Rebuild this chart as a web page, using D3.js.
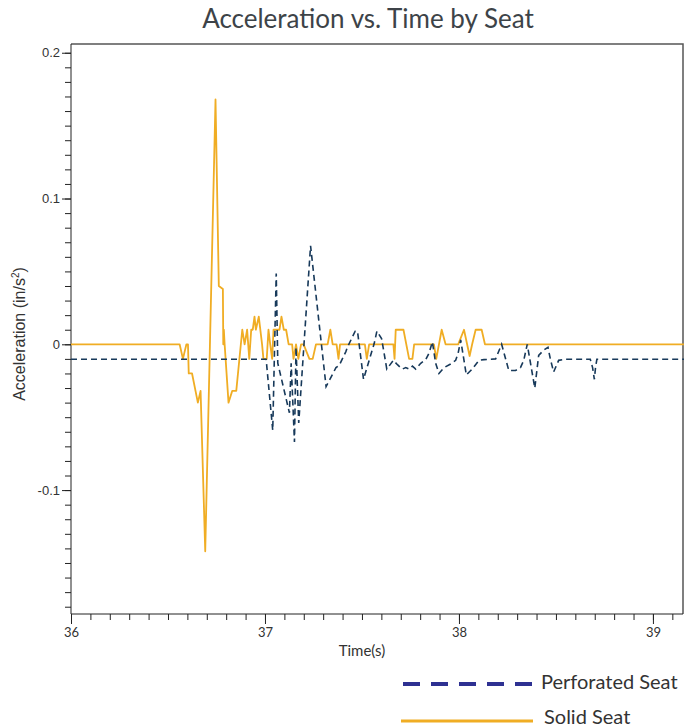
<!DOCTYPE html>
<html>
<head>
<meta charset="utf-8">
<script src="https://cdn.jsdelivr.net/npm/d3@7"></script>
<style>
  body { margin: 0; background: #fff; }
</style>
</head>
<body>
<div id="chart"></div>
<script>
// Solid seat readings (time in s, acceleration in in/s^2)
const solidTime = [
  36.0, 36.56, 36.577, 36.595, 36.603, 36.607, 36.624, 36.654, 36.668, 36.692,
  36.745, 36.762, 36.783, 36.785, 36.788, 36.792, 36.812, 36.831, 36.852, 36.883,
  36.895, 36.908, 36.919, 36.929, 36.937, 36.946, 36.953, 36.968, 36.985, 36.992,
  37.009, 37.018, 37.027, 37.037, 37.044, 37.075, 37.085, 37.097, 37.109, 37.122,
  37.14, 37.147, 37.16, 37.172, 37.186, 37.199, 37.229, 37.246, 37.263, 37.323,
  37.337, 37.349, 37.369, 37.379, 37.387, 37.515, 37.525, 37.537, 37.662, 37.668,
  37.674, 37.714, 37.743, 37.76, 37.769, 37.871, 37.883, 37.911, 37.931, 37.996,
  38.026, 38.055, 38.068, 38.086, 38.117, 38.134, 39.16
];
const solidAccel = [
  0, 0, -0.01, 0, 0, -0.02, -0.02, -0.04, -0.032, -0.142,
  0.168, 0.04, 0.038, 0, 0.01, 0, -0.04, -0.032, -0.032, 0.01,
  0, 0.01, -0.01, 0.01, 0.01, 0.019, 0.01, 0.019, 0, -0.01,
  -0.01, 0.01, 0, -0.01, 0.01, 0.01, 0.019, 0.01, 0.01, 0,
  0, -0.01, 0, -0.01, 0, 0, -0.01, -0.01, 0, 0,
  0.01, 0, 0, -0.01, 0, 0, -0.01, 0, 0, -0.01,
  0.01, 0.01, -0.01, -0.01, 0, 0, -0.01, 0.01, 0, 0,
  0.01, -0.008, 0, 0.01, 0.01, 0, 0
];

// Perforated seat readings
const perfTime = [
  36.0, 37.006, 37.04, 37.058, 37.066, 37.126, 37.135, 37.152, 37.16, 37.174,
  37.235, 37.315, 37.366, 37.383, 37.417, 37.425, 37.465, 37.477, 37.508, 37.537,
  37.563, 37.577, 37.601, 37.614, 37.628, 37.662, 37.683, 37.708, 37.726, 37.743,
  37.76, 37.777, 37.803, 37.829, 37.846, 37.863, 37.88, 37.897, 37.923, 37.957,
  37.983, 37.996, 38.009, 38.038, 38.068, 38.103, 38.129, 38.189, 38.22, 38.257,
  38.292, 38.317, 38.334, 38.352, 38.391, 38.411, 38.437, 38.459, 38.471, 38.488,
  38.514, 38.549, 38.677, 38.689, 38.698, 38.704, 38.711, 39.16
];
const perfAccel = [
  -0.0103, -0.0103, -0.059, 0.0486, -0.013, -0.047, -0.013, -0.067, -0.002, -0.054,
  0.0676, -0.029, -0.016, -0.0144, -0.005, -0.002, 0.009, 0.009, -0.024, -0.011,
  0.0005, 0.009, 0.004, -0.006, -0.017, -0.011, -0.014, -0.017, -0.016, -0.017,
  -0.015, -0.017, -0.013, -0.0105, -0.006, 0.0016, -0.013, -0.02, -0.016, -0.0135,
  -0.011, -0.006, 0.003, -0.021, -0.017, -0.011, -0.0105, -0.01, 0, -0.018,
  -0.018, -0.016, -0.011, 0, -0.03, -0.0076, -0.004, -0.002, -0.01, -0.019,
  -0.011, -0.0103, -0.0103, -0.016, -0.024, -0.016, -0.0103, -0.0103
];

const xTicks = [36, 37, 38, 39];
const yTicks = [-0.1, 0, 0.1, 0.2];
const yTickLabels = ["-0.1", "0", "0.1", "0.2"];
const seriesNames = ["Perforated Seat", "Solid Seat"];

const width = 691;
const height = 728;
const margin = { top: 44, right: 8, bottom: 114, left: 71 };
const innerWidth = width - margin.left - margin.right;
const innerHeight = height - margin.top - margin.bottom;

const solidColor = "#f0ad24";
const perfColor = "#17395a";
const perfLegendColor = "#2e3192";

const svg = d3
  .select("#chart")
  .append("svg")
  .attr("width", width)
  .attr("height", height);

/*
 * ========================================================================
 *  Scales
 * ========================================================================
 */
const xScale = d3
  .scaleLinear()
  .domain([36, 39.155])
  .range([margin.left, margin.left + innerWidth]);
const yScale = d3
  .scaleLinear()
  .domain([-0.185, 0.206])
  .range([margin.top + innerHeight, margin.top]);

/*
 * ========================================================================
 *  Frame + axes
 * ========================================================================
 */
// top / right border
svg
  .append("path")
  .attr(
    "d",
    `M${margin.left},${margin.top}H${margin.left + innerWidth}V${margin.top + innerHeight}`
  )
  .attr("fill", "none")
  .attr("stroke", "#555")
  .attr("stroke-width", 1.5);

// minor ticks (no labels)
const yMinor = d3.range(-18, 21).map((d) => d / 100);
const yMinorG = svg
  .append("g")
  .attr("transform", `translate(${margin.left},0)`)
  .call(d3.axisLeft(yScale).tickValues(yMinor).tickSize(6).tickFormat(""));
yMinorG.select(".domain").remove();
yMinorG.selectAll("text").remove();
yMinorG.selectAll("line").attr("stroke", "#222");

const yAxis = svg
  .append("g")
  .attr("transform", `translate(${margin.left},0)`)
  .call(
    d3
      .axisLeft(yScale)
      .tickValues(yTicks)
      .tickSize(9)
      .tickPadding(2)
      .tickFormat((d, i) => yTickLabels[i])
  );
yAxis.select(".domain").attr("d", `M0,${margin.top}V${margin.top + innerHeight}`).attr("stroke", "#222");
yAxis.selectAll("line").attr("stroke", "#222");
yAxis
  .selectAll("text")
  .style("font-family", '"Liberation Sans", Arial, sans-serif')
  .style("font-size", "13px")
  .attr("fill", "#333");

const xMinor = d3.range(360, 392).map((d) => d / 10);
const xMinorG = svg
  .append("g")
  .attr("transform", `translate(0,${margin.top + innerHeight})`)
  .call(d3.axisBottom(xScale).tickValues(xMinor).tickSize(6).tickFormat(""));
xMinorG.select(".domain").remove();
xMinorG.selectAll("text").remove();
xMinorG.selectAll("line").attr("stroke", "#222");

const xAxis = svg
  .append("g")
  .attr("transform", `translate(0,${margin.top + innerHeight})`)
  .call(d3.axisBottom(xScale).tickValues(xTicks).tickSize(10).tickPadding(4).tickFormat(d3.format("d")));
xAxis.select(".domain").attr("d", `M${margin.left},0H${margin.left + innerWidth}`).attr("stroke", "#222");
xAxis.selectAll("line").attr("stroke", "#222");
xAxis
  .selectAll("text")
  .style("font-family", "Lato, sans-serif")
  .style("font-size", "13px")
  .attr("fill", "#333");

// Title
svg
  .append("text")
  .attr("x", 368)
  .attr("y", 28)
  .attr("text-anchor", "middle")
  .style("font-family", "Lato, sans-serif")
  .style("font-size", "26px")
  .attr("fill", "#3d4348")
  .text("Acceleration vs. Time by Seat");

// Axis titles
svg
  .append("text")
  .attr("text-anchor", "middle")
  .attr("x", xScale(37.5))
  .attr("y", 656)
  .style("font-family", "Lato, sans-serif")
  .style("font-size", "15px")
  .attr("fill", "#333")
  .text("Time(s)");

const yTitle = svg
  .append("text")
  .attr("text-anchor", "middle")
  .attr("transform", `translate(25,334) rotate(-90)`)
  .style("font-family", '"Liberation Sans", Arial, sans-serif')
  .style("font-size", "16px")
  .attr("fill", "#333");
yTitle.append("tspan").text("Acceleration (in/s");
yTitle.append("tspan").attr("dy", -6).style("font-size", "10px").text("2");
yTitle.append("tspan").attr("dy", 6).text(")");

/*
 * ========================================================================
 *  Lines
 * ========================================================================
 */
const line = d3
  .line()
  .x((d) => xScale(d[0]))
  .y((d) => yScale(d[1]));

const solidData = d3.zip(solidTime, solidAccel);
const perfData = d3.zip(perfTime, perfAccel);

svg
  .append("path")
  .attr("d", line(solidData))
  .attr("fill", "none")
  .attr("stroke", solidColor)
  .attr("stroke-width", 1.8)
  .attr("stroke-linejoin", "round");

svg
  .append("path")
  .attr("d", line(perfData))
  .attr("fill", "none")
  .attr("stroke", perfColor)
  .attr("stroke-width", 1.6)
  .attr("stroke-dasharray", "6,4");

/*
 * ========================================================================
 *  Legend
 * ========================================================================
 */
const legend = svg
  .selectAll(".legend")
  .data(seriesNames)
  .enter()
  .append("g")
  .attr("class", "legend");

legend
  .append("line")
  .attr("x1", (d, i) => (i === 0 ? 403 : 401))
  .attr("x2", 533)
  .attr("y1", (d, i) => 684 + i * 37)
  .attr("y2", (d, i) => 684 + i * 37)
  .attr("stroke", (d, i) => (i === 0 ? perfLegendColor : solidColor))
  .attr("stroke-width", (d, i) => (i === 0 ? 4 : 3))
  .attr("stroke-dasharray", (d, i) => (i === 0 ? "17,11" : null));

legend
  .append("text")
  .attr("x", (d, i) => (i === 0 ? 541 : 544))
  .attr("y", (d, i) => 689 + i * 35)
  .style("font-family", "Lato, sans-serif")
  .style("font-size", "20px")
  .attr("fill", "#333")
  .text((d) => d);
</script>
</body>
</html>
